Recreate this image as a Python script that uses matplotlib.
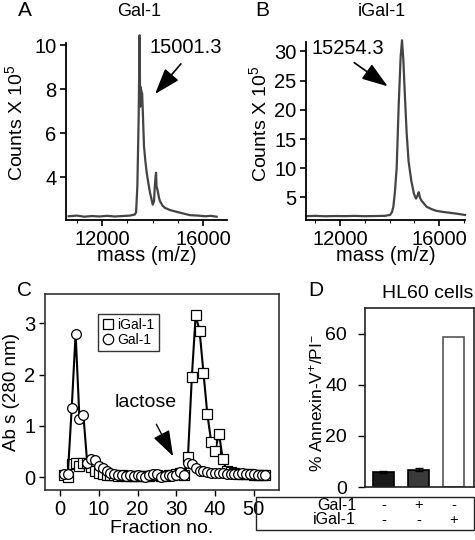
import matplotlib
matplotlib.use("Agg")
import matplotlib.pyplot as plt
import matplotlib.transforms as mtransforms
from matplotlib.lines import Line2D
from matplotlib.patches import Rectangle
from matplotlib.ticker import MultipleLocator

plt.rcParams["font.family"] = ["Liberation Sans", "DejaVu Sans"]
plt.rcParams["mathtext.fontset"] = "custom"
plt.rcParams["mathtext.rm"] = "Liberation Sans"
plt.rcParams["mathtext.it"] = "Liberation Sans:italic"
plt.rcParams["mathtext.default"] = "rm"

# --- A: Gal-1 mass spectrum (counts x 10^5) ---
gal_mass = [10680, 11000, 11300, 11600, 11900, 12200, 12500, 12800, 13100, 13300,
            13350, 13400, 13450, 13490, 13510, 13530, 13560, 13590, 13615, 13663,
            13720, 13770, 13840, 13900, 13960, 14010, 14060, 14090, 14120, 14140,
            14160, 14180, 14218, 14260, 14300, 14400, 14495, 14700, 14957, 15200,
            15485, 15800, 16100, 16300, 16540]
gal_counts = [2.22, 2.25, 2.2, 2.23, 2.21, 2.24, 2.21, 2.23, 2.25, 2.3,
              2.4, 3.6, 6.6, 10.45, 7.2, 8.1, 7.9, 7.8, 7.0, 5.4,
              4.7, 4.2, 3.7, 3.3, 3.0, 2.75, 2.9, 3.56, 4.0, 4.2,
              3.56, 3.5, 3.3, 3.05, 2.9, 2.7, 2.6, 2.5, 2.42, 2.35,
              2.27, 2.25, 2.22, 2.24, 2.2]

# --- B: iGal-1 mass spectrum ---
igal_mass = [10650, 11000, 11400, 11800, 12200, 12600, 13000, 13400, 13800, 14020,
             14100, 14155, 14220, 14290, 14370, 14450, 14505, 14560, 14610, 14690,
             14770, 14880, 14990, 15070, 15130, 15180, 15230, 15285, 15400, 15500,
             15700, 15900, 16200, 16445, 16750, 17050]
igal_counts = [1.8, 1.85, 1.78, 1.82, 1.8, 1.84, 1.79, 1.82, 1.85, 2.0,
               2.5, 3.4, 6.0, 10.1, 20.7, 29.1, 31.9, 28.5, 23.5, 16.2,
               11.2, 7.85, 5.6, 4.8, 5.3, 5.9, 5.0, 4.5, 3.9, 3.4,
               3.0, 2.7, 2.5, 2.37, 2.2, 2.0]

# --- C: lactose affinity column elution (A280) ---
fractions = list(range(1, 54))
abs_igal = [0.05, 0.0, 0.25, 0.27, 0.22, 0.27, 0.28, 0.2, 0.12, 0.08,
            0.06, 0.05, 0.04, 0.04, 0.03, 0.04, 0.03, 0.03, 0.02, 0.03,
            0.03, 0.02, 0.03, 0.04, 0.04, 0.02, 0.03, 0.04, 0.05, 0.06,
            0.08, 0.05, 0.4, 1.95, 3.16, 2.85, 2.04, 1.23, 0.69, 0.51,
            0.85, 0.35, 0.12, 0.1, 0.08, 0.07, 0.07, 0.06, 0.06, 0.05,
            0.05, 0.04, 0.04]
abs_gal = [0.07, 0.07, 1.35, 2.8, 1.13, 1.22, 0.27, 0.35, 0.33, 0.22,
           0.17, 0.12, 0.08, 0.06, 0.04, 0.05, 0.03, 0.04, 0.02, 0.04,
           0.03, 0.0, 0.04, 0.06, 0.07, 0.0, 0.02, 0.05, 0.03, 0.05,
           0.1, 0.05, 0.27, 0.26, 0.18, 0.13, 0.12, 0.1, 0.08, 0.08,
           0.08, 0.08, 0.07, 0.07, 0.07, 0.07, 0.08, 0.07, 0.07, 0.07,
           0.05, 0.05, 0.05]

# --- D: HL60 apoptosis ---
annexin = [5.9, 6.8, 58.5]
annexin_err = [0.5, 0.5]  # only the two Gal-1 bars carry error bars
bar_colors = ["#1a1a1a", "#3a3a3a", "white"]
bar_edges = ["black", "black", "#555555"]
row_names = ["Gal-1", "iGal-1"]
gal1_signs = ["-", "+", "-"]
igal1_signs = ["-", "-", "+"]

W, H = 475, 540
fig = plt.figure(figsize=(W / 100, H / 100), dpi=100)


def px_axes(left, top, right, bottom):
    return fig.add_axes([left / W, 1 - bottom / H, (right - left) / W, (bottom - top) / H])


def ftext(x, y, s, **kw):
    fig.text(x / W, 1 - y / H, s, **kw)


FS = 14.5
line_col = "#444444"
arrow_style = "-|>,head_length=1.6,head_width=0.55"

# ---------- A ----------
axA = px_axes(66, 43, 227, 220)
axA.plot(gal_mass, gal_counts, color=line_col, lw=1.6, clip_on=False)
axA.set_xlim(10574, 16950)
axA.set_ylim(2.05, 10.1)
axA.set_xticks([12000, 16000])
axA.set_yticks([4, 6, 8, 10])
axA.xaxis.set_minor_locator(MultipleLocator(1000))
axA.set_xlabel("mass (m/z)", fontsize=FS, labelpad=-2)
axA.set_ylabel("Counts X 10$^5$", fontsize=14)
axA.yaxis.set_label_coords(-0.25, 0.55)
axA.annotate("", xy=(0.542, 0.70), xytext=(0.725, 0.894), xycoords="axes fraction",
             arrowprops=dict(arrowstyle=arrow_style, color="black", lw=1.2,
                             mutation_scale=10))
axA.text(0.745, 0.977, "15001.3", transform=axA.transAxes, ha="center", va="center",
         fontsize=FS)

# ---------- B ----------
axB = px_axes(306, 42, 465, 220)
axB.plot(igal_mass, igal_counts, color=line_col, lw=1.6, clip_on=False)
axB.set_xlim(10626, 17050)
axB.set_ylim(1.14, 31.6)
axB.set_xticks([12000, 16000])
axB.set_yticks([5, 10, 15, 20, 25, 30])
axB.xaxis.set_minor_locator(MultipleLocator(1000))
axB.set_xlabel("mass (m/z)", fontsize=FS, labelpad=-2)
axB.set_ylabel("Counts X 10$^5$", fontsize=14)
axB.yaxis.set_label_coords(-0.226, 0.54)
axB.annotate("", xy=(0.528, 0.742), xytext=(0.289, 0.893), xycoords="axes fraction",
             arrowprops=dict(arrowstyle=arrow_style, color="black", lw=1.2,
                             mutation_scale=10))
axB.text(0.264, 0.966, "15254.3", transform=axB.transAxes, ha="center", va="center",
         fontsize=FS)

for ax in (axA, axB):
    ax.spines["top"].set_visible(False)
    ax.spines["right"].set_visible(False)
    for sp in ("left", "bottom"):
        ax.spines[sp].set_linewidth(1.3)
    ax.tick_params(which="major", direction="out", length=4, width=1.2,
                   labelsize=FS, pad=3)
    ax.tick_params(which="minor", direction="out", length=2, width=0.8)
    ax.tick_params(axis="y", which="minor", left=False)

# ---------- C ----------
axC = px_axes(45, 294, 279, 490)
axC.plot(fractions, abs_igal, color="black", lw=1.5, marker="s", ms=7,
         mfc="white", mec="black", mew=0.9, label="iGal-1")
axC.plot(fractions, abs_gal, color="black", lw=1.5, marker="o", ms=7,
         mfc="white", mec="black", mew=0.9, label="Gal-1")
axC.set_xlim(-3.9, 56.5)
axC.set_ylim(-0.25, 3.57)
axC.set_xticks([0, 10, 20, 30, 40, 50])
axC.set_yticks([0, 1, 2, 3])
axC.set_xlabel("Fraction no.", fontsize=14, labelpad=1)
axC.set_ylabel("Ab s (280 nm)", fontsize=13.5, labelpad=3)
axC.tick_params(direction="out", length=4, width=1, labelsize=14.5, pad=3)
for sp in axC.spines.values():
    sp.set_linewidth(1.2)
    sp.set_color("#333333")
handles = [Line2D([], [], ls="none", marker="s", ms=7.5, mfc="white", mec="black", mew=0.9),
           Line2D([], [], ls="none", marker="o", ms=7.5, mfc="white", mec="black", mew=0.9)]
leg = axC.legend(handles, ["iGal-1", "Gal-1"], loc="upper left",
                 bbox_to_anchor=(0.226, 0.9), fontsize=10, frameon=True,
                 fancybox=False, edgecolor="black", handlelength=0.8,
                 handletextpad=0.3, borderpad=0.3, labelspacing=0.1,
                 borderaxespad=0)
leg.get_frame().set_linewidth(1.0)
axC.annotate("", xy=(29.5, 0.36), xytext=(24.5, 1.08),
             arrowprops=dict(arrowstyle=arrow_style, color="black", lw=1.0,
                             mutation_scale=10))
axC.text(22.2, 1.46, "lactose", ha="center", va="center", fontsize=14)

# ---------- D ----------
axD = px_axes(365, 308, 474, 487)
xpos = [0, 1, 2]
axD.bar(xpos, annexin, width=0.6, color=bar_colors, edgecolor=bar_edges, lw=1.2)
axD.errorbar(xpos[:2], annexin[:2], yerr=annexin_err, fmt="none", ecolor="black",
             elinewidth=1, capsize=3, capthick=1)
axD.set_xlim(-0.52, 2.57)
axD.set_ylim(0, 70)
axD.set_yticks([0, 20, 40, 60])
axD.set_xticks([])
axD.set_ylabel("% Annexin-V$^{+}$/PI$^{-}$", fontsize=12.5)
axD.yaxis.set_label_coords(-0.36, 0.47)
axD.tick_params(direction="out", length=5, width=1, labelsize=14, pad=8)
for sp in axD.spines.values():
    sp.set_linewidth(1.2)
    sp.set_color("#222222")

# table under D
fig.add_artist(Rectangle((256 / W, 1 - 530 / H), (474 - 256) / W, 33 / H,
                         transform=fig.transFigure, fill=False, lw=1.0,
                         ec="#222222"))
TFS = 10.5
row_y = [505.5, 520]
ftext(356, row_y[0], row_names[0], ha="right", va="center", fontsize=TFS + 1)
ftext(356, row_y[1], row_names[1], ha="right", va="center", fontsize=TFS + 1)
trans = mtransforms.blended_transform_factory(axD.transData, fig.transFigure)
for x, s1, s2 in zip(xpos, gal1_signs, igal1_signs):
    axD.text(x, 1 - row_y[0] / H, s1, transform=trans, ha="center", va="center",
             fontsize=TFS, clip_on=False)
    axD.text(x, 1 - row_y[1] / H, s2, transform=trans, ha="center", va="center",
             fontsize=TFS, clip_on=False)

# titles and panel letters
ftext(139, 12, "Gal-1", ha="center", va="center", fontsize=13)
ftext(382, 12, "iGal-1", ha="center", va="center", fontsize=13)
ftext(428, 293, "HL60 cells", ha="center", va="center", fontsize=14)
ftext(25, 10, "A", ha="center", va="center", fontsize=15)
ftext(262, 10, "B", ha="center", va="center", fontsize=15)
ftext(25, 291, "C", ha="center", va="center", fontsize=15)
ftext(316, 290, "D", ha="center", va="center", fontsize=15)

fig.savefig("out.png", dpi=100, facecolor="white")
